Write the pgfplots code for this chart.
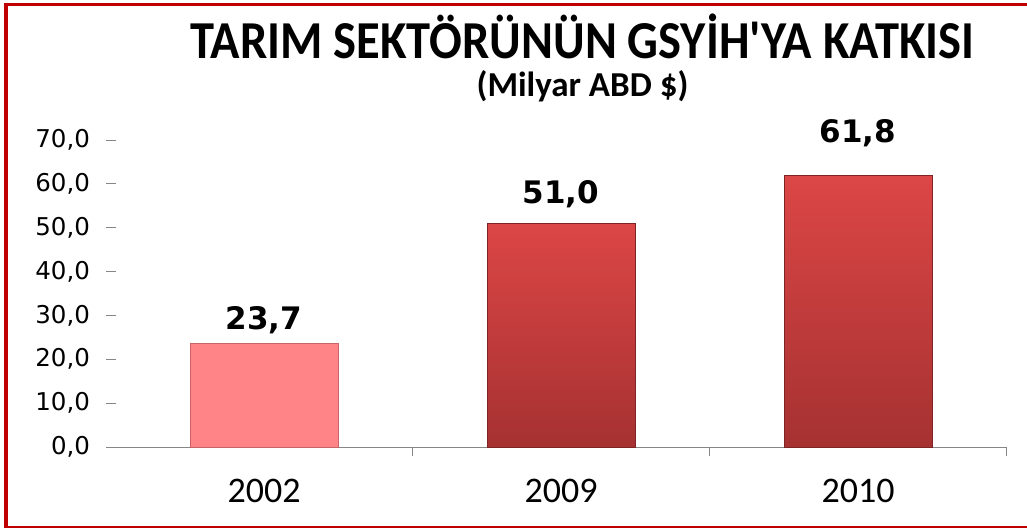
\documentclass[border=0pt]{standalone}
\usepackage{pgfplots}
\pgfplotsset{compat=1.18}
\usepackage{fontspec}
\setmainfont{Carlito}
\newfontfamily\titlefont{Carlito}
\newfontfamily\dejavu{DejaVu Sans}
\definecolor{framered}{HTML}{C00000}
\definecolor{axisgray}{HTML}{868686}
\definecolor{pinkbar}{HTML}{FF8488}
\definecolor{pinkedge}{HTML}{C86468}
\definecolor{redtop}{HTML}{DC4646}
\definecolor{redbot}{HTML}{A63131}
\definecolor{rededge}{HTML}{7E2424}
\begin{document}
\begin{tikzpicture}
\path[use as bounding box] (0pt,0pt) rectangle (1027pt,528pt);
% frame
\fill[framered] (4pt,0pt) rectangle (8pt,525pt);
\fill[framered] (4pt,521.5pt) rectangle (1027pt,525pt);
\fill[framered] (4pt,0pt) rectangle (1027pt,2.5pt);
% titles
\node[anchor=base, inner sep=0pt] at (582.5pt,469pt) {\scalebox{1}[1.1]{\titlefont\fontsize{48.5}{48.5}\selectfont\bfseries TARIM SEKTÖRÜNÜN GSYİH'YA KATKISI}};
\node[anchor=base, inner sep=0pt] at (582.5pt,431pt) {\titlefont\fontsize{35}{35}\selectfont\bfseries (Milyar ABD \$)};
\begin{axis}[
  at={(115.5pt,81pt)}, anchor=south west,
  scale only axis, width=891pt, height=307pt,
  xmin=-0.5, xmax=2.5, ymin=0, ymax=70,
  ybar, bar width=148pt, bar shift=0pt,
  axis x line*=bottom, axis y line*=left,
  y axis line style={draw=none},
  x axis line style={draw=axisgray, line width=1pt},
  every tick/.style={draw=axisgray, line width=1pt},
  tick align=outside, major tick length=9pt,
  xtick={0.5,1.5,2.5}, xticklabels={},
  extra x ticks={0,1,2},
  extra x tick labels={2002,2009,2010},
  extra x tick style={major tick length=0pt, tick style={draw=none},
    tick label style={font=\fontsize{36}{36}\selectfont, anchor=base, yshift=-55pt, inner sep=0pt}},
  ytick={0,10,...,70},
  /pgf/number format/assume math mode=true,
  yticklabel={\pgfmathprintnumber[fixed,fixed zerofill,precision=1,use comma]{\tick}},
  yticklabel style={font=\dejavu\fontsize{24.5}{24.5}\selectfont, text=black, xshift=-13pt},
  nodes near coords={\pgfmathprintnumber[fixed,fixed zerofill,precision=1,use comma,assume math mode=true]{\pgfplotspointmeta}},
  every node near coord/.append style={font=\dejavu\bfseries\fontsize{31}{31}\selectfont, anchor=base, inner sep=0pt, text=black},
  clip=false,
]
\addplot[fill=pinkbar, draw=pinkedge, line width=1pt,
  every node near coord/.append style={yshift=14pt}] coordinates {(0,23.7)};
\addplot[top color=redtop, bottom color=redbot, draw=rededge, line width=1pt,
  every node near coord/.append style={yshift=20pt}] coordinates {(1,51.0)};
\addplot[top color=redtop, bottom color=redbot, draw=rededge, line width=1pt,
  every node near coord/.append style={yshift=33pt}] coordinates {(2,61.8)};
\end{axis}
\end{tikzpicture}
\end{document}
